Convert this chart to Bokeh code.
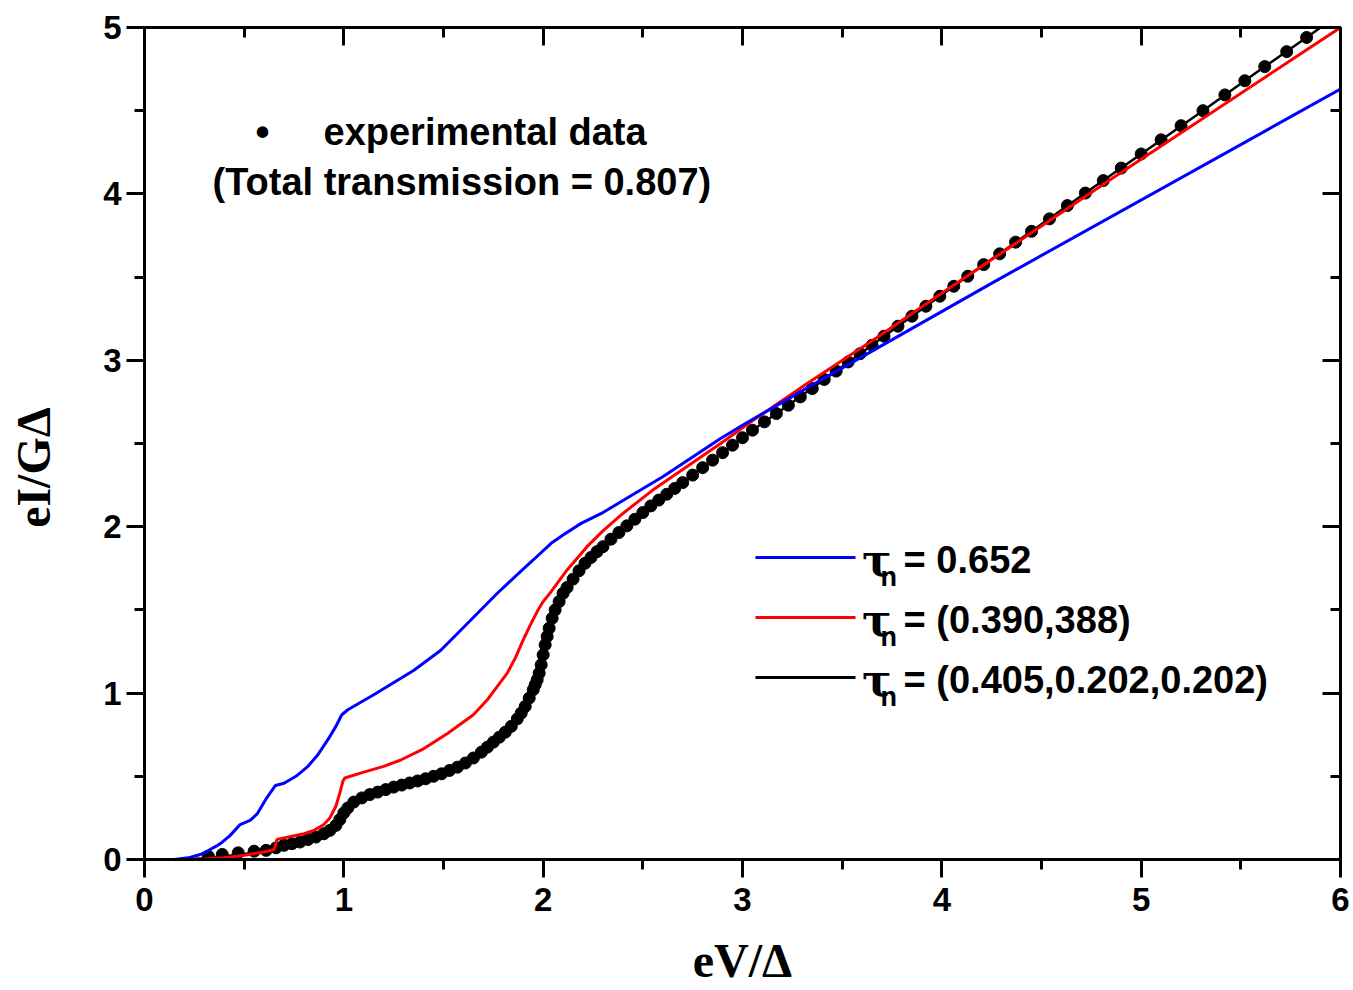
from bokeh.plotting import figure
from bokeh.models import LinearAxis, SingleIntervalTicker, Label, Range1d
from bokeh.embed import file_html
from bokeh.resources import INLINE

# ---------------- data ----------------
exp_V = [0.32, 0.39, 0.47, 0.55, 0.61, 0.66, 0.70, 0.74, 0.78, 0.82, 0.86, 0.90, 0.93, 0.96, 0.98,
         1.00, 1.02, 1.05, 1.09, 1.13, 1.17, 1.21, 1.25, 1.29, 1.33, 1.37, 1.41, 1.45, 1.49, 1.53,
         1.57, 1.61, 1.65, 1.69, 1.72, 1.75, 1.78, 1.81, 1.84, 1.87, 1.89, 1.91, 1.93, 1.95, 1.96,
         1.97, 1.98, 1.99, 2.00, 2.01, 2.02, 2.03, 2.045, 2.06, 2.08, 2.10, 2.12, 2.15, 2.18, 2.21,
         2.24, 2.27, 2.30, 2.34, 2.38, 2.42, 2.46, 2.50, 2.54, 2.58, 2.62, 2.66, 2.70, 2.75, 2.80,
         2.85, 2.90, 2.95, 3.00, 3.05, 3.11, 3.17, 3.23, 3.29, 3.35, 3.41, 3.47, 3.53, 3.59, 3.65,
         3.71, 3.78, 3.85, 3.92, 3.99, 4.06, 4.13, 4.21, 4.29, 4.37, 4.45, 4.54, 4.63, 4.72, 4.81,
         4.90, 5.00, 5.10, 5.20, 5.31, 5.42, 5.52, 5.62, 5.73, 5.83]
exp_I = [0.02, 0.03, 0.04, 0.05, 0.055, 0.07, 0.085, 0.095, 0.105, 0.12, 0.135, 0.155, 0.175, 0.205, 0.24,
         0.28, 0.31, 0.345, 0.37, 0.39, 0.405, 0.42, 0.435, 0.447, 0.46, 0.472, 0.485, 0.50, 0.515, 0.535,
         0.555, 0.58, 0.61, 0.645, 0.675, 0.705, 0.735, 0.765, 0.80, 0.845, 0.88, 0.92, 0.97, 1.02, 1.05,
         1.08, 1.12, 1.17, 1.23, 1.29, 1.34, 1.39, 1.45, 1.50, 1.55, 1.60, 1.635, 1.685, 1.735, 1.78,
         1.815, 1.85, 1.88, 1.925, 1.965, 2.005, 2.045, 2.085, 2.125, 2.16, 2.195, 2.23, 2.265, 2.31, 2.355,
         2.40, 2.445, 2.49, 2.535, 2.58, 2.63, 2.68, 2.73, 2.78, 2.83, 2.885, 2.935, 2.99, 3.04, 3.09,
         3.145, 3.205, 3.265, 3.325, 3.385, 3.445, 3.505, 3.575, 3.64, 3.71, 3.775, 3.85, 3.93, 4.005, 4.08,
         4.155, 4.24, 4.325, 4.41, 4.50, 4.595, 4.68, 4.765, 4.855, 4.94]

# tau_n = 0.652 (single channel)
blue_V = [0.0, 0.15, 0.22, 0.28, 0.32, 0.36, 0.39, 0.43, 0.48, 0.50, 0.53, 0.565, 0.615, 0.657, 0.70,
          0.76, 0.82, 0.87, 0.92, 0.96, 0.99, 1.02, 1.15, 1.35, 1.485, 1.60, 1.77, 1.886, 1.95, 2.04,
          2.10, 2.19, 2.30, 2.39, 2.60, 2.89, 3.00, 3.34, 4.26, 6.0]
blue_I = [0.0, 0.0, 0.01, 0.03, 0.054, 0.08, 0.104, 0.145, 0.21, 0.22, 0.235, 0.274, 0.374, 0.445, 0.458,
          0.50, 0.56, 0.63, 0.72, 0.80, 0.87, 0.90, 0.99, 1.136, 1.256, 1.394, 1.60, 1.73, 1.80, 1.90,
          1.95, 2.02, 2.085, 2.15, 2.30, 2.53, 2.61, 2.845, 3.47, 4.63]

# tau_n = (0.390, 0.388)
red_V = [0.0, 0.20, 0.30, 0.40, 0.50, 0.60, 0.65, 0.665, 0.70, 0.80, 0.85, 0.90, 0.93, 0.96, 0.98,
         0.995, 1.005, 1.10, 1.20, 1.28, 1.40, 1.52, 1.65, 1.72, 1.77, 1.82, 1.86, 1.90, 1.94, 1.97,
         2.00, 2.04, 2.12, 2.22, 2.30, 2.39, 2.55, 2.72, 2.89, 3.06, 3.33, 3.66, 3.99, 4.85, 6.0]
red_I = [0.0, 0.0, 0.003, 0.01, 0.025, 0.045, 0.06, 0.12, 0.13, 0.155, 0.175, 0.21, 0.25, 0.32, 0.40,
         0.47, 0.49, 0.525, 0.56, 0.595, 0.665, 0.757, 0.87, 0.96, 1.04, 1.12, 1.21, 1.32, 1.42, 1.49,
         1.55, 1.61, 1.74, 1.88, 1.975, 2.07, 2.22, 2.36, 2.50, 2.645, 2.865, 3.125, 3.395, 4.09, 5.0]

# tau_n = (0.405, 0.202, 0.202)
black_V = [0.0, 0.20, 0.30, 0.40, 0.50, 0.60, 0.65, 0.67, 0.70, 0.80, 0.90, 0.95, 0.98, 1.00, 1.03,
           1.07, 1.15, 1.25, 1.35, 1.45, 1.55, 1.65, 1.75, 1.82, 1.87, 1.91, 1.95, 1.98, 2.00, 2.02,
           2.045, 2.08, 2.12, 2.18, 2.24, 2.30, 2.40, 2.50, 2.62, 2.75, 2.90, 3.05, 3.23, 3.41, 3.59,
           3.78, 3.99, 4.21, 4.45, 4.72, 5.00, 5.31, 5.62, 5.83, 5.90]
black_I = [0.0, 0.0, 0.008, 0.02, 0.033, 0.05, 0.062, 0.078, 0.086, 0.11, 0.152, 0.19, 0.24, 0.28, 0.325,
           0.36, 0.398, 0.435, 0.466, 0.50, 0.545, 0.61, 0.705, 0.775, 0.845, 0.92, 1.02, 1.12, 1.23, 1.34,
           1.45, 1.55, 1.635, 1.735, 1.815, 1.88, 1.985, 2.085, 2.195, 2.31, 2.445, 2.58, 2.73, 2.885, 3.04,
           3.205, 3.385, 3.575, 3.775, 4.005, 4.24, 4.50, 4.765, 4.94, 5.00]

legend_labels = ["= 0.652", "= (0.390,388)", "= (0.405,0.202,0.202)"]
legend_colors = ["#0000ff", "#ff0000", "#000000"]

# ---------------- figure ----------------
SANS = "Liberation Sans"
SERIF = "Liberation Serif"

p = figure(width=1353, height=990, x_range=Range1d(0, 6), y_range=Range1d(0, 5),
           output_backend="svg", toolbar_location=None,
           min_border_left=144, min_border_right=13, min_border_top=27, min_border_bottom=131)
p.outline_line_color = None
p.xgrid.grid_line_color = None
p.ygrid.grid_line_color = None
p.background_fill_color = "white"
p.border_fill_color = "white"


def style_axis(ax, outward=True, labels=True):
    ax.ticker = SingleIntervalTicker(interval=1, num_minor_ticks=2)
    ax.axis_line_width = 3
    ax.axis_line_color = "black"
    ax.major_tick_line_width = 3
    ax.minor_tick_line_width = 3
    ax.major_tick_line_color = "black"
    ax.minor_tick_line_color = "black"
    if outward:
        ax.major_tick_out, ax.major_tick_in = 18, 0
        ax.minor_tick_out, ax.minor_tick_in = 10, 0
    else:
        ax.major_tick_out, ax.major_tick_in = 0, 18
        ax.minor_tick_out, ax.minor_tick_in = 0, 10
    if labels:
        ax.major_label_text_font = SANS
        ax.major_label_text_font_style = "bold"
        ax.major_label_text_font_size = "33px"
        ax.major_label_text_color = "black"
    else:
        ax.major_label_text_font_size = "0px"
        ax.major_label_standoff = 0


xb = p.xaxis[0]
yl = p.yaxis[0]
style_axis(xb)
style_axis(yl)
xb.major_label_standoff = 10
yl.major_label_standoff = 5
xb.axis_label = "eV/Δ"
yl.axis_label = "eI/GΔ\u00a0\u00a0\u00a0\u00a0"
for ax in (xb, yl):
    ax.axis_label_text_font = SERIF
    ax.axis_label_text_font_style = "bold"
    ax.axis_label_text_font_size = "48px"
    ax.axis_label_text_color = "black"
xb.axis_label_standoff = 20
yl.axis_label_standoff = 40

xt = LinearAxis()
yr = LinearAxis()
style_axis(xt, outward=False, labels=False)
style_axis(yr, outward=False, labels=False)
p.add_layout(xt, "above")
p.add_layout(yr, "right")

# ---------------- glyphs ----------------
p.scatter(exp_V, exp_I, size=12, color="black")
p.line(black_V, black_I, line_color="black", line_width=2.5)
p.line(red_V, red_I, line_color="#ff0000", line_width=3)
p.line(blue_V, blue_I, line_color="#0000ff", line_width=3)

# ---------------- legends ----------------
p.add_layout(Label(x=0.592, y=4.37, text="•", text_font=SANS, text_font_style="bold",
                   text_font_size="40px", text_align="center", text_baseline="alphabetic",
                   text_color="black"))
p.add_layout(Label(x=0.898, y=4.375, text="experimental data", text_font=SANS,
                   text_font_style="bold", text_font_size="38px", text_baseline="alphabetic",
                   text_color="black"))
p.add_layout(Label(x=0.341, y=4.07, text="(Total transmission = 0.807)", text_font=SANS,
                   text_font_style="bold", text_font_size="38px", text_baseline="alphabetic",
                   text_color="black"))

row_step = 0.3606
for i, (lab, col) in enumerate(zip(legend_labels, legend_colors)):
    yline = 1.815 - i * row_step
    p.segment(x0=[3.065], y0=[yline], x1=[3.567], y1=[yline], line_color=col, line_width=3)
    ybase = 1.797 - i * row_step
    p.add_layout(Label(x=3.600, y=ybase, text="τ", text_font="DejaVu Serif", text_font_style="bold",
                       text_font_size="44px", text_baseline="alphabetic", text_color="black"))
    p.add_layout(Label(x=3.692, y=ybase - 0.10, text="n", text_font=SANS, text_font_style="bold",
                       text_font_size="27px", text_baseline="alphabetic", text_color="black"))
    p.add_layout(Label(x=3.808, y=ybase, text=lab, text_font=SANS, text_font_style="bold",
                       text_font_size="38px", text_baseline="alphabetic", text_color="black"))

open("out.html", "w").write(file_html(p, INLINE))
